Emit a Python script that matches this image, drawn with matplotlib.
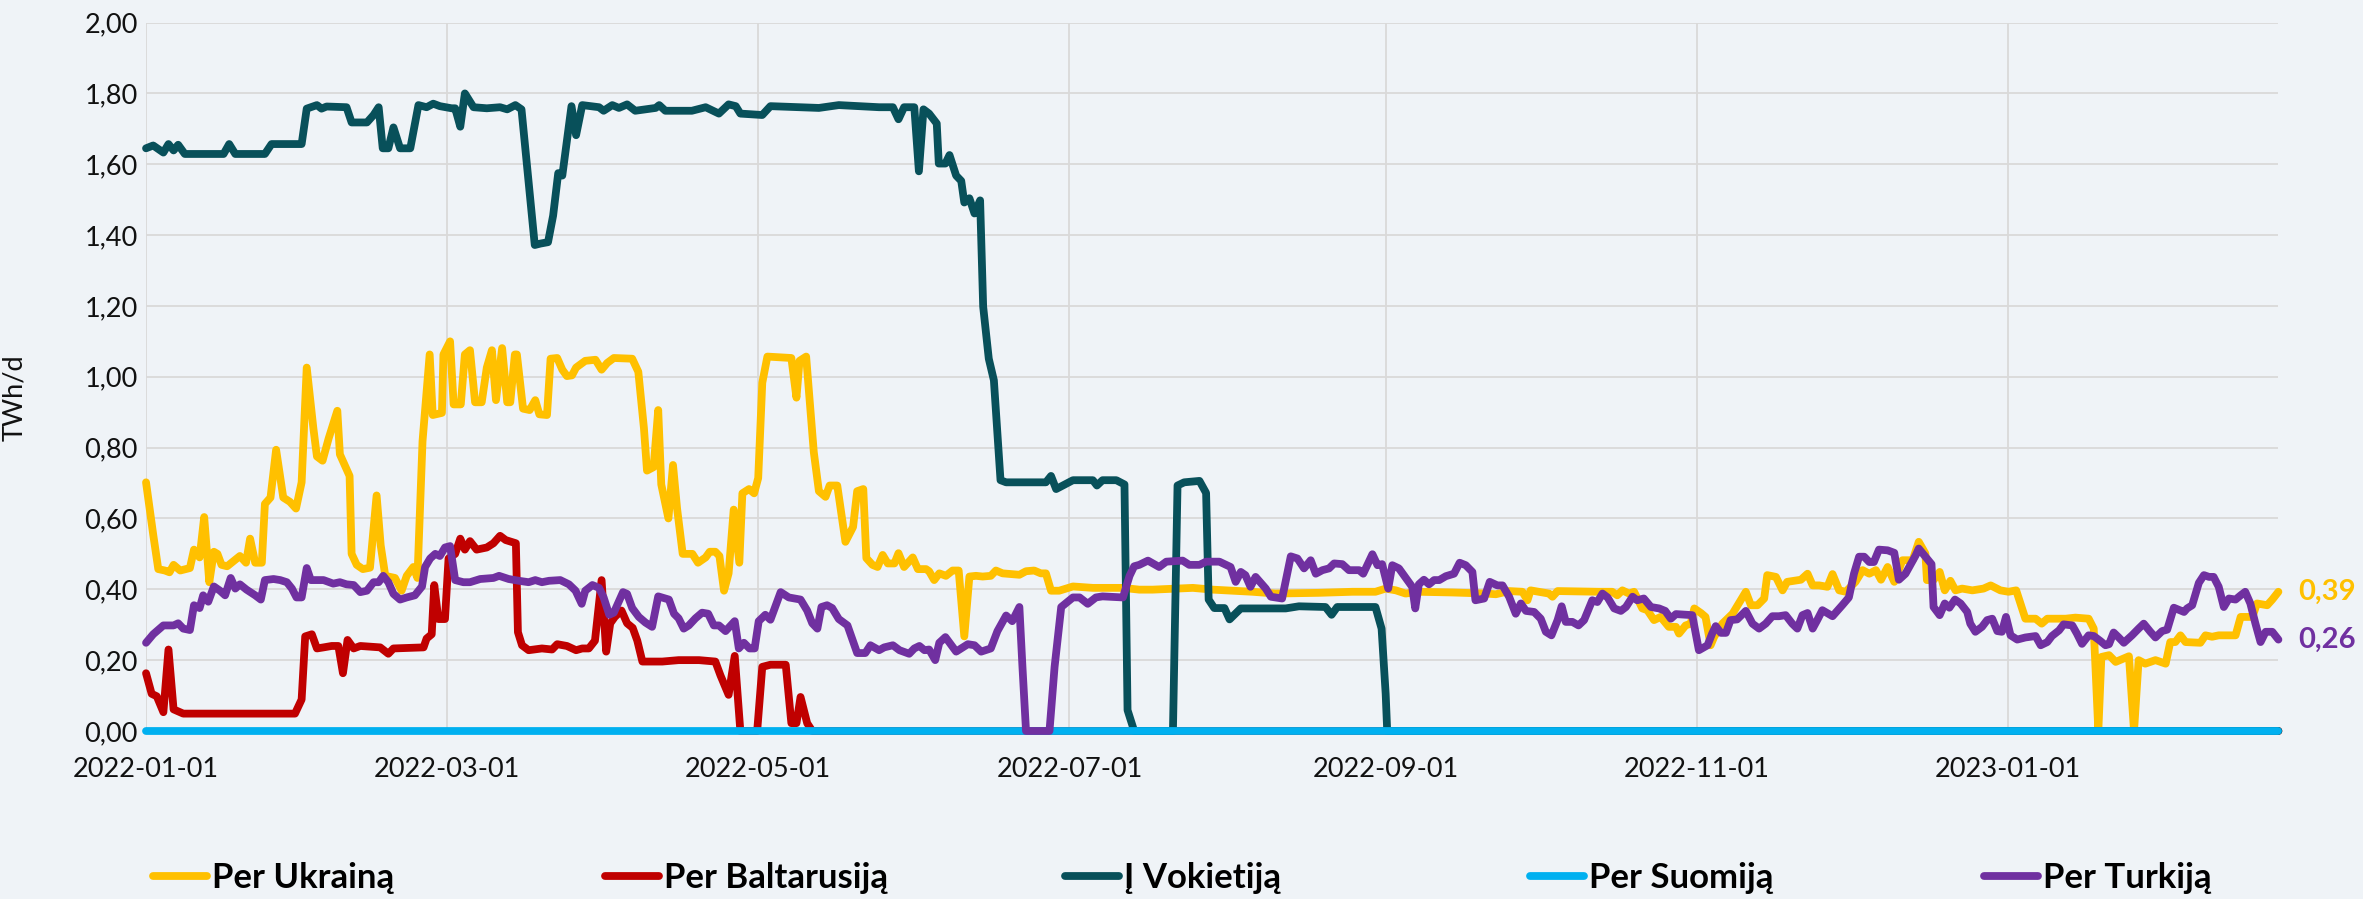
import matplotlib
matplotlib.use('Agg')
import matplotlib.pyplot as plt
import matplotlib.dates as mdates
from matplotlib.ticker import FuncFormatter, MultipleLocator
import pandas as pd

#%% data: (days since 2022-01-01, TWh/d)
start = pd.Timestamp('2022-01-01')
end_day = 418

ukraine = [(0, .702), (1.4, .555), (2.4, .457), (3.7, .453), (4.6, .448), (5.4, .469), (6.7, .453),
           (8.6, .46), (9.4, .512), (10.5, .49), (11.4, .604), (12.4, .42), (13.3, .506), (14, .50),
           (14.8, .469), (15.9, .465), (18.4, .494), (19.6, .475), (20.4, .543), (21.4, .475), (22.7, .475),
           (23.3, .641), (24.4, .659), (25.5, .794), (26.9, .659), (28.2, .647), (29.4, .628), (30.5, .702),
           (31.5, 1.026), (32.8, .855), (33.5, .775), (34.6, .763), (35.8, .826), (37.5, .904), (38, .781),
           (39.9, .72), (40.3, .50), (41.3, .469), (42.5, .457), (43.9, .461), (45.2, .665), (46, .524),
           (46.9, .438), (48.8, .432), (50.1, .396), (51.1, .438), (52.4, .463), (53.2, .432), (54.2, .818),
           (55.6, 1.063), (56.2, .892), (58, .898), (58.3, 1.063), (59.6, 1.10), (60.3, .922), (61.7, .922),
           (62.5, 1.063), (63.5, 1.075), (64.5, .928), (65.8, .928), (66.8, 1.026), (67.8, 1.075), (68.6, .934),
           (69.8, 1.081), (70.8, .928), (71.4, .928), (72.3, 1.063), (72.7, 1.063), (73.9, .91), (75.2, .906),
           (76.3, .934), (77.1, .894), (78.6, .892), (79.3, 1.051), (80.6, 1.053), (81.6, 1.02), (82.5, 1.002),
           (83.5, 1.004), (84.3, 1.026), (86.1, 1.045), (88.1, 1.048), (89.3, 1.02), (90.4, 1.039), (91.7, 1.053),
           (95.3, 1.051), (96.5, 1.014), (97.6, .855), (98.2, .735), (99.5, .745), (100.4, .906), (101, .696),
           (102.4, .60), (103.3, .751), (104.1, .628), (105.2, .50), (107.1, .50), (108.2, .475), (109.7, .49),
           (110.5, .506), (111.6, .506), (112.4, .494), (113.3, .396), (114.2, .445), (115.2, .625), (116.3, .475),
           (116.9, .671), (118.2, .683), (119.2, .671), (120, .714), (120.8, .983), (121.8, 1.057), (126.5, 1.053),
           (127.5, .941), (128.1, 1.045), (129.4, 1.057), (130.9, .787), (131.9, .677), (133.2, .661), (134, .693),
           (135.5, .693), (137.1, .534), (138.6, .576), (139.4, .677), (140.6, .683), (141.2, .488), (142.4, .469),
           (143.4, .463), (144.4, .497), (145.4, .473), (146.7, .473), (147.5, .502), (148.6, .463), (150.3, .49),
           (151.3, .457), (152.9, .457), (153.5, .451), (154.5, .426), (155.5, .445), (156.8, .438), (158.1, .453),
           (159.3, .453), (160.4, .267), (161.4, .436), (162.7, .438), (164, .436), (165.6, .438), (166.6, .453),
           (167.9, .445), (171.2, .441), (172.5, .451), (174.1, .453), (175.4, .445), (176.4, .445), (177.4, .396),
           (179, .396), (181.7, .408), (185.6, .404), (191.5, .404), (194.7, .399), (197.3, .399), (205.2, .404),
           (209.1, .399), (216.9, .393), (221.4, .388), (229.9, .390), (236.5, .393), (241, .393), (243, .402),
           (245, .397), (246.9, .388), (249.5, .393), (256.1, .391), (262.6, .388), (264.6, .386), (267.2, .395),
           (269.8, .393), (270.8, .369), (271.4, .397), (275, .388), (275.7, .379), (276.7, .395), (284.8, .393),
           (287.4, .393), (288.4, .383), (289.4, .397), (290.7, .388), (291.7, .393), (293.3, .346), (294.3, .341),
           (295.6, .313), (296.9, .322), (298.5, .294), (299.9, .294), (300.5, .275), (301.8, .298), (302.8, .303),
           (303.5, .346), (304.8, .333), (305.7, .322), (306.7, .242), (307.4, .266), (309, .303), (311, .331),
           (313.6, .393), (314.6, .355), (315.9, .355), (317.2, .374), (317.8, .44), (319.5, .435), (320.8, .397),
           (321.7, .421), (324.4, .427), (325.7, .444), (326.7, .411), (328, .411), (329.6, .407), (330.6, .443),
           (331.9, .397), (333.2, .393), (335.1, .421), (336.5, .454), (337.8, .444), (339.1, .454), (340.1, .427),
           (341.4, .463), (342.7, .421), (344.3, .482), (346.3, .482), (347.5, .534), (348.8, .501), (349.1, .426),
           (350.4, .426), (351.6, .449), (352.6, .397), (353.7, .424), (354.7, .397), (356, .402), (358, .397),
           (360.2, .402), (361.6, .411), (363.5, .397), (365.1, .393), (366.6, .397), (368.4, .317), (370.4, .317),
           (371.6, .303), (372.7, .317), (376.3, .317), (378.2, .320), (380.8, .317), (381.8, .289), (382.7, 0),
           (383.3, .209), (384.8, .214), (386.1, .195), (388.7, .211), (389.7, 0), (390.6, .20), (391.9, .19),
           (393.9, .20), (395.9, .19), (396.8, .251), (397.8, .251), (398.8, .27), (399.8, .251), (402.7, .249),
           (403.7, .27), (405, .266), (406.3, .27), (409.6, .27), (410.6, .322), (412.9, .322), (413.8, .36),
           (415.8, .355), (416.8, .371), (418, .393)]

belarus = [(0, .163), (1.1, .105), (2.1, .098), (3.4, .053), (4.4, .23), (5.4, .061), (7.3, .049), (29.2, .049),
           (30.5, .089), (31.2, .267), (32.5, .273), (33.5, .233), (34.8, .236), (36.4, .24), (37.7, .24),
           (38.6, .163), (39.5, .257), (40.7, .233), (42, .24), (45.9, .236), (47.5, .218), (48.5, .233),
           (54.4, .236), (55, .261), (56, .273), (56.5, .412), (57.3, .316), (58.6, .316), (59.3, .487),
           (60.6, .50), (61.6, .543), (62.5, .512), (63.5, .536), (64.8, .512), (66.8, .518), (68.1, .53),
           (69.4, .551), (70.5, .539), (72.5, .53), (72.9, .279), (73.7, .242), (75, .228), (77.6, .233),
           (79.6, .23), (80.6, .245), (82.5, .24), (84.3, .228), (85.5, .233), (86.8, .233), (88, .255),
           (89.3, .426), (90.2, .224), (91, .304), (91.9, .322), (93.2, .34), (94.3, .304), (95.4, .291),
           (96.3, .255), (97.3, .196), (101.2, .196), (104.4, .20), (108.4, .20), (111.6, .196), (112.6, .157),
           (114.2, .102), (115.4, .212), (116.5, 0), (119.8, 0), (120.8, .181), (122.4, .187), (125.4, .187),
           (126.5, .022), (127.5, .022), (128.3, .096), (129.6, .022), (130.6, 0), (418, 0)]

germany = [(0, 1.645), (1.4, 1.653), (3.4, 1.633), (4.4, 1.657), (5.4, 1.639), (6.3, 1.655), (7.6, 1.629),
           (15.2, 1.629), (16.3, 1.657), (17.5, 1.629), (23.3, 1.629), (24.6, 1.657), (30.5, 1.657), (31.5, 1.757),
           (33.5, 1.767), (34.4, 1.757), (35.4, 1.763), (39.3, 1.761), (40.3, 1.718), (43.3, 1.718), (44.6, 1.739),
           (45.6, 1.761), (46.4, 1.645), (47.5, 1.645), (48.5, 1.704), (49.8, 1.645), (51.8, 1.645), (53.4, 1.767),
           (55, 1.761), (56.3, 1.771), (57.6, 1.764), (59.9, 1.758), (60.6, 1.758), (61.6, 1.706), (62.5, 1.80),
           (64.2, 1.761), (66.8, 1.758), (69.4, 1.761), (70.8, 1.755), (72.4, 1.767), (73.6, 1.755), (76.2, 1.372),
           (77.3, 1.376), (78.8, 1.38), (79.8, 1.455), (80.8, 1.575), (81.6, 1.568), (83.4, 1.764), (84.3, 1.682),
           (85.5, 1.767), (88.8, 1.761), (89.7, 1.751), (91.4, 1.767), (92.7, 1.759), (94.3, 1.769), (95.9, 1.751),
           (99.9, 1.759), (100.6, 1.767), (101.8, 1.751), (107, 1.751), (109.7, 1.761), (112.3, 1.743),
           (114.2, 1.769), (115.6, 1.764), (116.5, 1.743), (120.8, 1.739), (122.4, 1.764), (131.9, 1.759),
           (135.8, 1.767), (143.7, 1.761), (146.4, 1.761), (147.5, 1.727), (148.6, 1.761), (150.6, 1.761),
           (151.5, 1.580), (152.4, 1.755), (153.5, 1.743), (155, 1.715), (155.4, 1.602), (156.7, 1.602),
           (157.5, 1.626), (158.8, 1.568), (159.8, 1.553), (160.4, 1.492), (161.4, 1.504), (162.4, 1.461),
           (163.5, 1.498), (164.1, 1.198), (165.2, 1.051), (166.2, 0.99), (167.5, 0.708), (168.6, 0.702),
           (176.4, 0.702), (177.4, 0.72), (178.4, 0.683), (181.7, 0.708), (185.6, 0.708), (186.4, 0.693),
           (187.5, 0.708), (190.2, 0.708), (191.8, 0.696), (192.4, 0.059), (193.7, 0), (201.3, 0), (202.2, 0.693),
           (203.5, 0.702), (206.5, 0.706), (207.8, 0.672), (208.3, 0.371), (209.4, 0.347), (211.4, 0.347),
           (212.4, 0.315), (214.6, 0.346), (223.4, 0.346), (226, 0.352), (231.2, 0.350), (232.4, 0.328),
           (233.5, 0.350), (241, 0.350), (242.2, 0.289), (243, 0.105), (243.3, 0), (418, 0)]

finland = [(0, 0.0), (418, 0.0)]

turkey = [(0, .249), (1.4, .273), (3.4, .298), (5.4, .298), (6.3, .304), (7.3, .289), (8.6, .285), (9.4, .355),
          (10.5, .347), (11.2, .383), (12.2, .365), (13.3, .408), (14.5, .396), (15.5, .383), (16.6, .432),
          (17.5, .402), (18.4, .414), (19.7, .399), (21.4, .383), (22.5, .371), (23.3, .426), (25, .429),
          (26.3, .426), (27.6, .42), (28.6, .402), (29.5, .377), (30.5, .377), (31.5, .46), (32.3, .426),
          (34.8, .426), (36.7, .416), (38, .42), (39.3, .414), (40.7, .412), (42, .392), (43.3, .396), (44.6, .42),
          (45.6, .42), (46.5, .438), (47.5, .42), (48.5, .387), (49.8, .371), (51.1, .377), (52.7, .383),
          (54.1, .408), (54.7, .463), (55.7, .487), (56.7, .50), (57.6, .494), (58.6, .518), (59.6, .522),
          (60.6, .426), (62.2, .42), (63.5, .42), (65.5, .429), (68.1, .432), (69.2, .438), (71.1, .429),
          (73.1, .424), (75, .42), (76.3, .426), (77.6, .42), (79, .424), (81.2, .426), (82.9, .414), (84.2, .396),
          (85.4, .359), (86.1, .396), (87.5, .412), (88.8, .404), (89.7, .377), (90.8, .328), (91.7, .334),
          (93.5, .392), (94.3, .387), (95.3, .347), (96.6, .322), (97.9, .306), (99.2, .294), (100.4, .38),
          (102.5, .371), (103.5, .331), (104.4, .318), (105.4, .289), (106.4, .298), (107.7, .318), (109, .334),
          (110.2, .331), (111.3, .298), (112.3, .298), (113.6, .282), (115.4, .31), (116.2, .233), (117.2, .249),
          (118.3, .233), (119.3, .233), (120.1, .31), (121.4, .328), (122.4, .314), (124.4, .392), (126, .377),
          (128.3, .371), (129.6, .34), (130.6, .304), (131.6, .289), (132.4, .35), (133.5, .355), (134.5, .347),
          (135.8, .316), (137.5, .298), (139.4, .22), (141, .22), (142, .242), (143.7, .228), (144.7, .236),
          (146.4, .242), (147.7, .228), (149.6, .218), (150.6, .233), (151.6, .24), (152.6, .228), (153.5, .23),
          (154.7, .20), (155.5, .249), (156.7, .265), (158.8, .224), (160.1, .236), (161.1, .245), (162.4, .242),
          (163.7, .224), (165.6, .233), (166.9, .282), (168.6, .326), (169.8, .31), (171.2, .35), (171.8, .181),
          (172.5, 0), (177.1, 0), (178.1, .181), (179.4, .35), (181.7, .377), (183, .377), (184.6, .359),
          (186.2, .377), (187.5, .38), (191.5, .377), (192.8, .438), (193.7, .465), (194.7, .469), (196.4, .481),
          (198.6, .463), (200, .478), (203.2, .481), (204.5, .469), (206.5, .469), (207.8, .478), (210.4, .478),
          (212.6, .463), (213.6, .421), (214.6, .449), (215.5, .44), (216.5, .407), (217.5, .435), (219.5, .402),
          (220.5, .379), (222.7, .374), (224.4, .493), (225.7, .487), (227, .459), (228.3, .482), (229.3, .444),
          (230.6, .454), (231.9, .459), (232.9, .473), (234.5, .471), (235.8, .454), (237.8, .454), (238.6, .444),
          (240.4, .499), (241.4, .468), (242.3, .471), (243.5, .402), (244.3, .468), (245.6, .459), (248.2, .407),
          (248.8, .346), (249.5, .414), (250.5, .427), (251.5, .414), (252.5, .426), (253.5, .426), (254.8, .437),
          (256.4, .444), (257.5, .475), (258.7, .468), (260, .449), (260.6, .369), (262.3, .374), (263.4, .421),
          (264.9, .411), (265.9, .411), (267.2, .379), (268.5, .331), (269.5, .36), (270.5, .339), (272.1, .336),
          (273.4, .317), (274.4, .28), (275.5, .27), (276.7, .313), (277.5, .352), (278.3, .308), (279.6, .308),
          (280.8, .298), (281.9, .313), (283.5, .369), (284.5, .364), (285.5, .388), (286.5, .377), (287.8, .346),
          (289.1, .339), (290.1, .35), (291.4, .379), (292.3, .369), (293.6, .374), (295, .35), (296.6, .346),
          (297.8, .339), (298.9, .317), (299.9, .33), (303.1, .327), (304.4, .228), (306.1, .242), (307, .275),
          (307.7, .296), (308.7, .277), (309.7, .277), (310.6, .313), (311.9, .315), (313.6, .339), (314.9, .303),
          (316.2, .289), (317.5, .303), (318.8, .324), (320.1, .324), (321.4, .327), (322.7, .303), (323.7, .289),
          (324.7, .327), (325.7, .333), (326.7, .289), (327.6, .313), (328.6, .341), (330.6, .324), (332.5, .355),
          (333.8, .377), (334.8, .444), (335.8, .492), (336.8, .492), (337.8, .477), (338.7, .477), (339.7, .512),
          (341.4, .51), (342.7, .503), (343.6, .427), (344.9, .444), (346.9, .496), (347.5, .515), (348.8, .492),
          (350, .471), (350.4, .35), (351.6, .327), (352.6, .36), (353.5, .348), (354.6, .371), (355.7, .36),
          (357, .336), (357.6, .303), (358.6, .28), (359.9, .294), (360.9, .313), (361.9, .317), (362.9, .282),
          (363.8, .28), (364.6, .322), (365.5, .27), (366.8, .258), (368.4, .264), (370.4, .268), (371.4, .242),
          (372.7, .251), (373.6, .268), (375, .284), (375.9, .301), (377.6, .298), (378.5, .275), (379.5, .246),
          (380.8, .27), (381.8, .268), (383.1, .254), (384.1, .242), (384.8, .245), (385.7, .278), (386.7, .264),
          (387.7, .249), (389.3, .27), (390.6, .289), (391.6, .303), (392.9, .28), (393.9, .264), (395.2, .282),
          (396.2, .286), (397.5, .348), (399.5, .336), (400.1, .346), (401.1, .355), (402.4, .418), (403.4, .44),
          (404.4, .435), (405.3, .435), (406.3, .407), (407.3, .35), (408.3, .374), (409.6, .371), (410.6, .383),
          (411.5, .393), (412.5, .36), (413.5, .303), (414.5, .251), (415.5, .28), (416.8, .28), (418, .258)]

labels = ['Per Ukrainą', 'Per Baltarusiją', 'Į Vokietiją', 'Per Suomiją', 'Per Turkiją']
colors = ['#ffc000', '#c00000', '#08505a', '#00b0f0', '#7030a0']
series = [ukraine, belarus, germany, finland, turkey]

#%% style
plt.rcParams['font.family'] = ['Lato', 'DejaVu Sans']
bg = '#eff3f7'
grid_col = '#d9d9d9'
fs = 19.5


def comma(v, pos=None):
    return f'{v:.2f}'.replace('.', ',')


#%% plot
fig = plt.figure(figsize=(23.63, 8.99), dpi=100, facecolor=bg)
ax = fig.add_axes([0.0618, 0.1869, 0.9024, 0.7880])
ax.set_facecolor(bg)

lines = []
for pts, lab, col in zip(series, labels, colors):
    d, v = zip(*pts)
    x = start + pd.to_timedelta(list(d), unit='D')
    ln, = ax.plot(x, v, color=col, lw=5.6, label=lab, clip_on=False,
                  solid_joinstyle='round', solid_capstyle='round')
    lines.append(ln)

ax.set_xlim(start, start + pd.Timedelta(days=end_day))
ax.set_ylim(0, 2)
ax.yaxis.set_major_locator(MultipleLocator(0.2))
ax.yaxis.set_major_formatter(FuncFormatter(comma))
ax.xaxis.set_major_locator(mdates.MonthLocator(bymonth=[1, 3, 5, 7, 9, 11]))
ax.xaxis.set_major_formatter(mdates.DateFormatter('%Y-%m-%d'))
ax.grid(True, color=grid_col, lw=1.3)
ax.set_axisbelow(True)
for s in ax.spines.values():
    s.set_visible(False)
ax.tick_params(axis='both', length=0, labelsize=fs, labelcolor='#111111')
ax.tick_params(axis='x', pad=19)
ax.tick_params(axis='y', pad=6)
ax.set_ylabel('TWh/d', fontsize=fs, color='#111111')
ax.yaxis.set_label_coords(-0.0558, 0.47)

# last values at the right end
for pts, col in ((ukraine, colors[0]), (turkey, colors[4])):
    d, v = pts[-1]
    ax.annotate(comma(v), xy=(start + pd.Timedelta(days=d), v), xytext=(14, 0),
                textcoords='offset points', color=col, fontsize=21, fontweight='bold',
                va='center', annotation_clip=False)

# legend, evenly spaced along the bottom
leg_x = [0.0647, 0.2560, 0.4507, 0.6475, 0.8396]
for ln, lx in zip(lines, leg_x):
    fig.legend(handles=[ln], loc='center left', bbox_to_anchor=(lx, 0.023), frameon=False,
               prop={'weight': 'bold', 'size': 25}, handlelength=1.55, handletextpad=0.15,
               borderpad=0, borderaxespad=0)

plt.savefig('out.png', dpi=100, facecolor=bg)
